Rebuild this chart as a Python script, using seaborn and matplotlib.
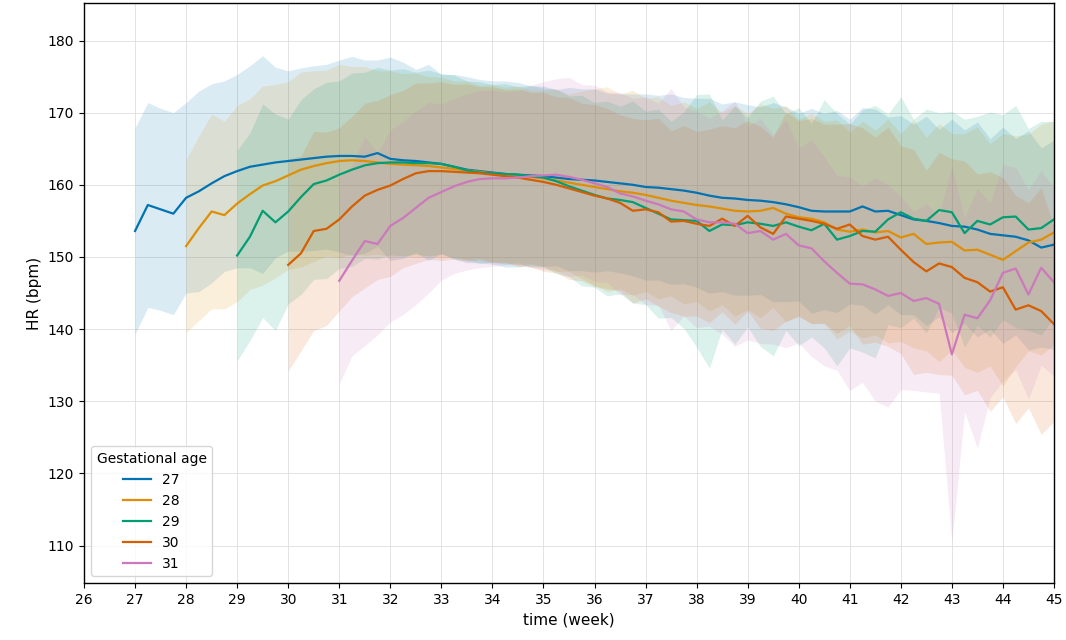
import numpy as np
import pandas as pd
import matplotlib
matplotlib.use("Agg")
import matplotlib.pyplot as plt
import seaborn as sns

# ---------------- data ----------------
ages = [27, 28, 29, 30, 31]
step = 0.25  # weeks between samples

mean_27 = [153.6, 157.2, 156.6, 156.0, 158.2, 159.1, 160.2, 161.2, 161.9, 162.5,
           162.8, 163.1, 163.3, 163.5, 163.7, 163.9, 164.0, 164.0, 163.9, 164.4,
           163.6, 163.4, 163.3, 163.1, 162.9, 162.5, 162.1, 161.9, 161.7, 161.5,
           161.4, 161.3, 161.2, 161.0, 160.8, 160.7, 160.6, 160.4, 160.2, 160.0,
           159.7, 159.6, 159.4, 159.2, 158.9, 158.5, 158.2, 158.1, 157.9, 157.8,
           157.6, 157.3, 156.9, 156.4, 156.3, 156.3, 156.3, 157.0, 156.3, 156.4,
           155.8, 155.2, 155.0, 154.7, 154.3, 154.2, 153.8, 153.2, 153.0, 152.8,
           152.3, 151.3, 151.7]
sd_27 = [14.3, 14.2, 14.0, 14.0, 13.2, 13.9, 13.8, 13.2, 13.4, 14.0,
         15.1, 13.2, 12.5, 12.7, 12.8, 12.8, 13.3, 13.8, 13.4, 12.9,
         14.1, 13.6, 12.7, 13.6, 12.4, 12.8, 12.9, 12.7, 12.7, 12.9,
         12.8, 12.4, 12.5, 12.2, 12.7, 12.6, 12.7, 12.3, 12.4, 12.6,
         12.9, 12.8, 13.2, 12.9, 13.1, 13.5, 13.0, 13.4, 13.2, 13.0,
         13.8, 13.5, 13.0, 14.2, 13.6, 14.0, 12.8, 13.7, 14.2, 13.0,
         13.8, 13.2, 14.5, 13.0, 14.8, 13.4, 14.9, 13.2, 15.0, 13.6,
         15.2, 13.8, 14.5]

mean_28 = [151.5, 154.0, 156.3, 155.8, 157.4, 158.7, 159.9, 160.5, 161.3, 162.1,
           162.6, 163.0, 163.3, 163.4, 163.3, 163.1, 162.9, 162.8, 162.7, 162.6,
           162.4, 162.2, 162.0, 161.8, 161.6, 161.4, 161.3, 161.1, 160.9, 160.6,
           160.3, 160.0, 159.7, 159.4, 159.1, 158.9, 158.6, 158.2, 157.8, 157.5,
           157.2, 157.0, 156.7, 156.4, 156.3, 156.4, 156.8, 156.0, 155.5, 155.3,
           154.8, 153.8, 153.5, 153.8, 153.4, 153.6, 152.7, 153.2, 151.8, 152.0,
           152.1, 150.9, 151.0, 150.3, 149.6, 150.8, 152.0, 152.4, 153.4]
sd_28 = [12.0, 12.8, 13.5, 13.0, 13.6, 13.2, 13.8, 13.4, 13.0, 13.5,
         13.2, 12.9, 13.4, 13.0, 13.1, 12.7, 12.9, 12.6, 12.8, 12.4,
         12.5, 12.2, 12.4, 12.0, 12.3, 12.1, 12.4, 12.0, 12.2, 12.6,
         12.3, 13.0, 13.6, 14.2, 13.5, 14.2, 13.4, 14.0, 13.2, 14.0,
         13.4, 14.5, 13.3, 14.6, 13.6, 14.8, 13.8, 15.0, 13.6, 14.6,
         14.0, 15.2, 13.8, 15.0, 14.2, 15.5, 14.4, 15.8, 14.8, 16.5,
         15.0, 16.2, 17.0, 15.4, 17.5, 16.0, 15.0, 16.0, 15.5]

mean_29 = [150.2, 152.8, 156.4, 154.8, 156.3, 158.3, 160.1, 160.6, 161.4, 162.1,
           162.7, 163.0, 163.1, 163.1, 163.0, 163.0, 162.9, 162.5, 162.0, 161.7,
           161.6, 161.5, 161.4, 161.2, 161.0, 160.5, 159.8, 159.2, 158.6, 158.1,
           157.9, 157.6, 156.8, 156.0, 155.2, 155.1, 155.0, 153.6, 154.5, 154.4,
           154.8, 154.6, 154.3, 154.8, 154.2, 153.7, 154.6, 152.4, 152.9, 153.6,
           153.5, 155.2, 156.2, 155.3, 155.0, 156.5, 156.2, 153.3, 155.0, 154.5,
           155.5, 155.6, 153.8, 154.0, 155.2]
sd_29 = [14.6, 14.4, 14.8, 15.0, 12.8, 13.5, 13.2, 13.6, 13.0, 13.4,
         12.9, 13.3, 12.8, 13.0, 12.6, 12.9, 12.5, 12.7, 12.4, 12.6,
         12.3, 12.5, 12.2, 12.6, 12.4, 12.8, 12.5, 13.2, 12.8, 13.5,
         13.0, 14.0, 13.4, 14.5, 13.6, 15.0, 17.5, 19.0, 14.5, 16.5,
         14.5, 17.0, 18.0, 15.0, 16.5, 14.8, 17.2, 17.5, 15.5, 16.8,
         17.5, 14.6, 16.0, 13.8, 15.5, 13.5, 14.0, 15.8, 14.5, 15.6,
         14.2, 15.4, 14.0, 14.8, 13.6]

mean_30 = [148.9, 150.5, 153.6, 153.9, 155.2, 157.0, 158.5, 159.3, 159.9, 160.8,
           161.6, 161.9, 161.9, 161.8, 161.7, 161.6, 161.4, 161.2, 161.0, 160.7,
           160.4, 160.0, 159.5, 159.0, 158.5, 158.1, 157.5, 156.4, 156.6, 156.2,
           154.9, 155.0, 154.6, 154.3, 155.3, 154.3, 155.7, 154.1, 153.2, 155.6,
           155.3, 155.0, 154.6, 153.9, 154.5, 152.9, 152.4, 152.8, 151.0, 149.3,
           148.0, 149.1, 148.6, 147.1, 146.5, 145.2, 145.8, 142.7, 143.3, 142.5,
           140.7]
sd_30 = [14.7, 13.5, 13.8, 13.4, 12.7, 12.5, 12.8, 12.4, 12.6, 12.3,
         12.5, 12.2, 12.4, 12.1, 12.3, 12.0, 12.2, 12.0, 12.3, 12.1,
         12.4, 12.2, 12.6, 12.3, 12.6, 12.5, 12.2, 12.8, 12.4, 13.0,
         12.6, 13.2, 12.8, 13.4, 12.9, 13.6, 13.2, 14.0, 13.4, 14.5,
         13.6, 14.2, 13.8, 14.5, 14.0, 15.0, 14.2, 15.2, 14.4, 15.6,
         14.0, 15.4, 15.0, 16.2, 15.0, 16.6, 15.2, 15.8, 14.2, 17.1,
         13.5]

mean_31 = [146.7, 149.5, 152.2, 151.8, 154.3, 155.4, 156.8, 158.2, 159.0, 159.8,
           160.4, 160.8, 160.9, 160.9, 161.0, 161.2, 161.3, 161.4, 161.1, 160.7,
           160.2, 159.7, 158.8, 158.4, 157.8, 157.3, 156.6, 156.3, 155.2, 154.8,
           154.8, 154.6, 153.3, 153.6, 152.4, 153.2, 151.6, 151.2, 149.4, 147.8,
           146.3, 146.2, 145.5, 144.6, 145.0, 143.9, 144.3, 143.5, 136.5, 142.0,
           141.5, 144.0, 147.8, 148.4, 144.8, 148.5, 146.5]
sd_31 = [14.3, 13.2, 14.5, 12.6, 13.3, 13.4, 13.4, 13.2, 12.2, 12.1,
         12.2, 12.3, 12.2, 12.0, 12.0, 12.6, 13.0, 13.3, 13.8, 13.2,
         13.6, 13.2, 14.0, 13.6, 14.4, 14.0, 16.8, 14.5, 15.0, 14.4,
         15.5, 17.0, 14.8, 15.6, 14.5, 15.8, 13.5, 15.0, 14.5, 13.5,
         14.8, 13.6, 15.5, 15.4, 13.4, 12.4, 13.0, 12.4, 26.0, 13.5,
         18.0, 13.5, 15.0, 14.0, 14.5, 13.5, 13.0]

means = {27: mean_27, 28: mean_28, 29: mean_29, 30: mean_30, 31: mean_31}
sds = {27: sd_27, 28: sd_28, 29: sd_29, 30: sd_30, 31: sd_31}

x_ticks = list(range(26, 46))
y_ticks = list(range(110, 190, 10))

# ---------------- build long table ----------------
rows = []
for ga in ages:
    m = np.asarray(means[ga], dtype=float)
    s = np.asarray(sds[ga], dtype=float)
    t = ga + step * np.arange(len(m))
    for ti, mi, si in zip(t, m, s):
        rows.append({"time": ti, "HR": mi, "sd": si, "Gestational age": ga})
df = pd.DataFrame(rows)

# ---------------- plot ----------------
palette = sns.color_palette("colorblind", len(ages))
fig = plt.figure(figsize=(10.66, 6.4), dpi=100)
ax = fig.add_axes([0.0788, 0.089, 0.9099, 0.9063])

for ga, col in zip(ages, palette):
    sub = df[df["Gestational age"] == ga]
    ax.fill_between(sub["time"], sub["HR"] - sub["sd"], sub["HR"] + sub["sd"],
                    color=col, alpha=0.14, linewidth=0)

sns.lineplot(data=df, x="time", y="HR", hue="Gestational age",
             palette=palette, linewidth=1.6, ax=ax, legend=True)

ax.set_xlim(26, 45)
ax.set_ylim(104.8, 185.2)
ax.set_xticks(x_ticks)
ax.set_yticks(y_ticks)
ax.grid(True, color="#dedede", linewidth=0.6)
ax.set_axisbelow(True)
ax.set_xlabel("time (week)", fontsize=11)
ax.set_ylabel("HR (bpm)", fontsize=11)
ax.tick_params(labelsize=10)
for sp in ax.spines.values():
    sp.set_color("black")
    sp.set_linewidth(1.0)

handles, labels = ax.get_legend_handles_labels()
ax.legend(handles, [str(a) for a in ages], title="Gestational age",
          loc="lower left", fontsize=10, title_fontsize=10)

fig.savefig("out.png", dpi=100)
